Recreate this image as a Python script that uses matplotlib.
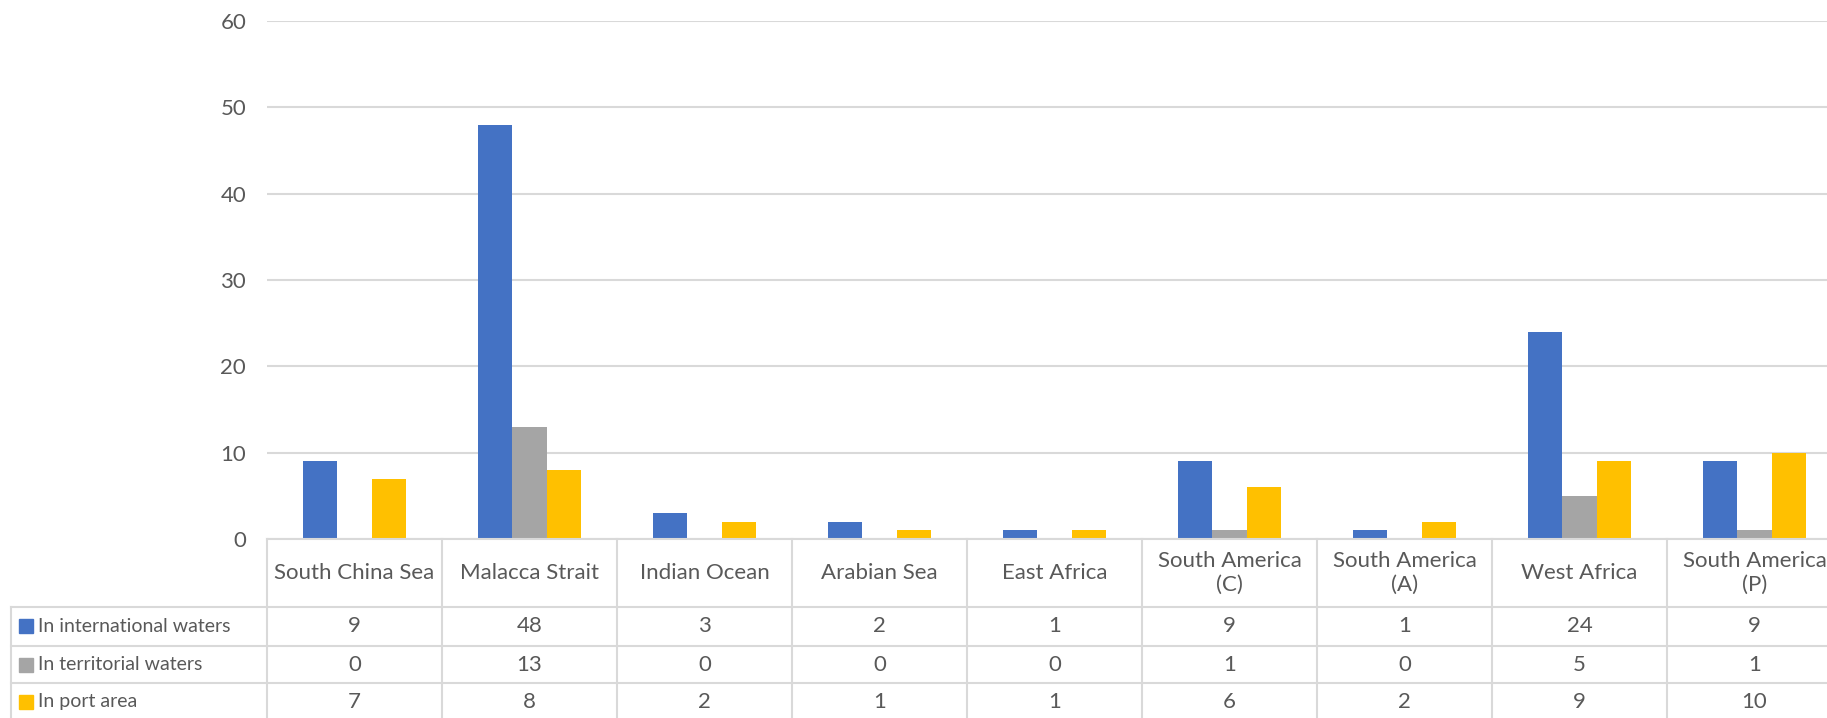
import numpy as np
import matplotlib.pyplot as plt
from matplotlib.lines import Line2D
from matplotlib.transforms import blended_transform_factory

categories = ["South China Sea", "Malacca Strait", "Indian Ocean", "Arabian Sea",
              "East Africa", "South America\n(C)", "South America\n(A)",
              "West Africa", "South America\n(P)"]
series_names = ["In international waters", "In territorial waters", "In port area"]
international = [9, 48, 3, 2, 1, 9, 1, 24, 9]
territorial = [0, 13, 0, 0, 0, 1, 0, 5, 1]
port = [7, 8, 2, 1, 1, 6, 2, 9, 10]
colors = ["#4472C4", "#A5A5A5", "#FFC000"]

W, H = 1827, 718
txt = "#595959"
grid = "#D9D9D9"
plt.rcParams['font.family'] = ['Lato', 'DejaVu Sans']

fig = plt.figure(figsize=(W / 100, H / 100), dpi=100)

def fx(px):
    return px / W

def fy(py):
    return 1 - py / H

# plot area: left 267px, 175px per category, top 21px, baseline 539px
ax = fig.add_axes([fx(267), fy(539), 9 * 175 / W, (539 - 21) / H])

x = np.arange(len(categories))
bw = 0.195
data = [international, territorial, port]
for i, vals in enumerate(data):
    ax.bar(x + (i - 1) * bw, vals, bw, color=colors[i], zorder=3)

ax.set_xlim(-0.5, len(categories) - 0.5)
ax.set_ylim(0, 60)
ax.set_yticks(range(0, 61, 10))
ax.yaxis.grid(True, color=grid, linewidth=1.5, zorder=0)
ax.set_xticks([])
for s in ax.spines.values():
    s.set_visible(False)
ax.tick_params(axis='y', length=0, pad=15, labelsize=16, labelcolor=txt)

# data table
tr = blended_transform_factory(ax.transData, fig.transFigure)
row_lines = [539, 607, 646, 683]
row_centers = [626, 665, 702]

fig.add_artist(Line2D([fx(267), 1], [fy(539), fy(539)], color=grid, lw=1.5))
for yy in row_lines[1:]:
    fig.add_artist(Line2D([fx(11), 1], [fy(yy), fy(yy)], color=grid, lw=1.5))
fig.add_artist(Line2D([fx(11), fx(11)], [fy(607), 0], color=grid, lw=1.5))
for k in range(len(categories) + 1):
    fig.add_artist(Line2D([k - 0.5, k - 0.5], [fy(539), 0], color=grid, lw=1.5,
                          transform=tr))

for k, cat in enumerate(categories):
    fig.text(k, fy(573), cat, transform=tr, ha='center', va='center',
             fontsize=16, color=txt, linespacing=1.25)
    for r, vals in enumerate(data):
        fig.text(k, fy(row_centers[r]), str(vals[k]), transform=tr,
                 ha='center', va='center', fontsize=16, color=txt)

for r, name in enumerate(series_names):
    yc = fy(row_centers[r])
    fig.patches.append(plt.Rectangle((fx(19), yc - 7 / H), 14 / W, 14 / H,
                                     transform=fig.transFigure, color=colors[r],
                                     figure=fig))
    fig.text(fx(38), yc, name, ha='left', va='center', fontsize=14, color=txt)

fig.savefig("out.png", dpi=100)
